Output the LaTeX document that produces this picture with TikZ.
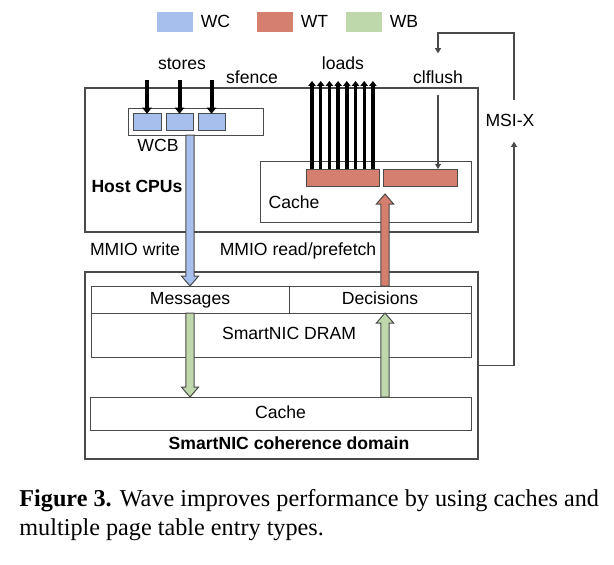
\documentclass[tikz,border=0pt]{standalone}
\usepackage{fontspec}
\setmainfont{Liberation Serif}
\setsansfont{Liberation Sans}
\usepackage{xcolor}
\definecolor{wcblue}{HTML}{A6BFEC}
\definecolor{wtred}{HTML}{D5806E}
\definecolor{wbgreen}{HTML}{BED8AC}
\definecolor{frame}{HTML}{4A4A4A}
\usetikzlibrary{arrows.meta, calc, positioning}

% box from pixel corners: name, x1, y1, x2, y2, style
\newcommand{\pxbox}[6]{%
  \pgfmathsetmacro{\bw}{(#4-#2)*0.5}%
  \pgfmathsetmacro{\bh}{(#5-#3)*0.5}%
  \node[#6, minimum width=\bw pt, minimum height=\bh pt] (#1)
    at ({(#2+#4)/2},{(#3+#5)/2}) {};
}
% fat vertical arrow: fill, start, tip
\newcommand{\fatarrow}[3]{%
  \path[draw=frame, fill=#1, line width=0.5pt, line join=miter]
    let \p1=(#2), \p2=(#3), \n1={ifthenelse(\y2>\y1,1,-1)} in
    (\x1-2.1pt,\y1) -- (\x1-2.1pt,\y2-\n1*5pt) -- (\x1-4.3pt,\y2-\n1*5pt) -- (\x1,\y2)
    -- (\x1+4.3pt,\y2-\n1*5pt) -- (\x1+2.1pt,\y2-\n1*5pt) -- (\x1+2.1pt,\y1) -- cycle;
}

\begin{document}
\begin{tikzpicture}[x=0.5pt, y=-0.5pt,
  every node/.style={font=\fontsize{8.8}{10}\selectfont\sffamily, inner sep=1pt,
    text height=1.45ex, text depth=0.35ex},
  box/.style={draw=frame, line width=0.65pt, inner sep=0pt, outer sep=0pt},
  cell/.style={draw=frame, line width=0.45pt, inner sep=0pt, outer sep=0pt},
  swatch/.style={fill=#1, minimum width=18pt, minimum height=10pt, inner sep=0pt},
  storearr/.style={line width=2pt, -{Triangle[width=4.6pt,length=3pt]}},
  loadarr/.style={line width=1.7pt, -{Triangle[width=3.6pt,length=2.4pt]}},
  thinarr/.style={draw=frame, line width=0.6pt, -{Triangle[width=3pt,length=2.6pt]}}]

  \useasboundingbox (0,0) rectangle (614,564);

  % legend
  \node[swatch=wcblue] (wcsw) at (175,22) {};
  \node[right=3.5pt of wcsw, inner sep=0pt] (wctx) {WC};
  \node[swatch=wtred] (wtsw) at (275,22) {};
  \node[right=3.5pt of wtsw, inner sep=0pt] (wttx) {WT};
  \node[swatch=wbgreen] (wbsw) at (364,22) {};
  \node[right=3.5pt of wbsw, inner sep=0pt] (wbtx) {WB};

  % host side
  \pxbox{host}{85}{88}{478}{232}{box}
  \pxbox{wcb}{128}{108}{263}{135}{cell}
  \pxbox{sqa}{133}{114}{161}{130}{cell, fill=wcblue}
  \pxbox{sqb}{166}{114}{193}{130}{cell, fill=wcblue}
  \pxbox{sqc}{198}{114}{225}{130}{cell, fill=wcblue}
  \pxbox{hcache}{260}{161}{471}{222}{cell}
  \pxbox{wtone}{306}{169}{379}{186}{cell, fill=wtred}
  \pxbox{wttwo}{383}{169}{457}{186}{cell, fill=wtred}

  \node (stores) at (182,64) {stores};
  \node (sfence) at (252,78) {sfence};
  \node (loads) at (343,64) {loads};
  \node (clflush) at (438,78) {clflush};
  \node (wcbtx) at (158,146) {WCB};
  \node[font=\fontsize{8.8}{10}\selectfont\sffamily\bfseries] (hosttx) at (137,187) {Host CPUs};
  \node (hcachetx) at (294,203) {Cache};
  \node (msix) at (510,121) {MSI-X};
  \node (mmiow) at (135,250) {MMIO write};
  \node (mmior) at (298,250) {MMIO read/prefetch};

  % SmartNIC side
  \pxbox{nic}{85}{272}{478}{459}{box}
  \pxbox{dram}{91}{286}{471}{357}{cell}
  \pxbox{msg}{91}{286}{289}{313}{cell}
  \pxbox{dec}{289}{286}{471}{313}{cell}
  \pxbox{ncache}{90}{397}{471}{430}{cell}

  \node (msgtx) at (msg) {Messages};
  \node (dectx) at (dec) {Decisions};
  \node (dramtx) at (289,334) {SmartNIC DRAM};
  \node (ncachetx) at (ncache) {Cache};
  \node[font=\fontsize{8.8}{10}\selectfont\sffamily\bfseries] (domain) at (289,444)
    {SmartNIC coherence domain};

  % stores and loads
  \foreach \s in {sqa,sqb,sqc}
    \draw[storearr] ($(\s.north)+(0,-34)$) -- (\s.north);
  \foreach \i in {0,...,7}
    \draw[loadarr] ($(wtone.north west)+(6+\i*8.7,0)$) -- ++(0,-88);

  % flush and interrupt
  \coordinate (rx) at (385,0);
  \coordinate (msitop) at (514,33);
  \draw[thinarr, shorten <=3pt] (clflush.south) -- (clflush.south |- wttwo.north);
  \draw[thinarr] (nic.east) -- (nic.east -| msitop) -- ($(msix.south -| msitop)+(0,10)$);
  \draw[thinarr, shorten >=7pt] ($(msix.north -| msitop)+(0,-10)$) -- (msitop) -| (clflush.north);

  % fat arrows
  \fatarrow{wcblue}{msg.north |- wcb.south}{msg.north}
  \fatarrow{wtred}{rx |- dec.north}{$(rx |- wtone.south)+(0,8)$}
  \fatarrow{wbgreen}{msg.south}{msg.south |- ncache.north}
  \fatarrow{wbgreen}{rx |- ncache.north}{rx |- dec.south}

  % caption
  \node[anchor=base west, inner sep=0pt, text height=, text depth=,
    font=\fontsize{12.1}{14}\selectfont\rmfamily] (cap1)
    at (19,506) {\textbf{Figure 3.} Wave improves performance by using caches and};
  \node[anchor=base west, inner sep=0pt, text height=, text depth=,
    font=\fontsize{12.1}{14}\selectfont\rmfamily] (cap2)
    at (19,535) {multiple page table entry types.};
\end{tikzpicture}
\end{document}
